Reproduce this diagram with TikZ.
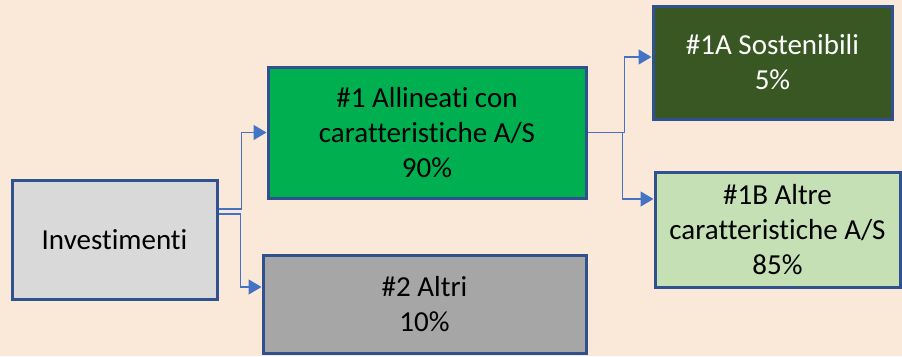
\documentclass[tikz,border=0pt]{standalone}
\usepackage{fontspec}
\setmainfont[Ligatures=NoCommon]{Carlito}
\usetikzlibrary{arrows.meta}

\definecolor{sfondo}{RGB}{250,232,217}
\definecolor{bordo}{RGB}{47,82,143}
\definecolor{freccia}{RGB}{68,114,196}
\definecolor{grigiochiaro}{RGB}{217,217,217}
\definecolor{verde}{RGB}{0,176,80}
\definecolor{grigio}{RGB}{166,166,166}
\definecolor{verdescuro}{RGB}{56,87,35}
\definecolor{verdechiaro}{RGB}{197,224,180}

\begin{document}
\begin{tikzpicture}[x=1pt,y=-1pt,
  box/.style={draw=bordo,line width=3pt,align=center,inner sep=0pt,
    font=\fontsize{29}{35}\selectfont},
  conn/.style={freccia,line width=1.5pt,-{Triangle[length=13pt,width=15pt]}}]

% Background
\fill[sfondo] (0,0) rectangle (902,356);
\useasboundingbox (0,0) rectangle (902,356);

% Boxes
\node[box,fill=grigiochiaro,minimum width=205pt,minimum height=119pt] (inv) at (114.5,239.5) {Investimenti};
\node[box,fill=verde,minimum width=318pt,minimum height=131pt] (all) at (427,132.5) {\#1 Allineati con\\caratteristiche A/S\\90\%};
\node[box,fill=grigio,minimum width=323pt,minimum height=98pt] (altri) at (424.5,304) {\#2 Altri\\10\%};
\node[box,fill=verdescuro,text=white,minimum width=239pt,minimum height=113pt] (sost) at (772.5,62.5) {\#1A Sostenibili\\5\%};
\node[box,fill=verdechiaro,minimum width=245pt,minimum height=115pt] (altre) at (777.5,229.5) {\#1B Altre\\caratteristiche A/S\\85\%};

% Connectors
\draw[conn] ([yshift=30.5pt]inv.east) -- ++(23,0) |- (all.west);
\draw[conn] ([yshift=25.5pt]inv.east) -- ++(22,0) |- ([yshift=17pt]altri.west);
\draw[conn] (all.east) -- ++(37,0) |- ([yshift=5.5pt]sost.west);
\draw[conn] (all.east) -- ++(35,0) |- ([yshift=30.5pt]altre.west);

\end{tikzpicture}
\end{document}
